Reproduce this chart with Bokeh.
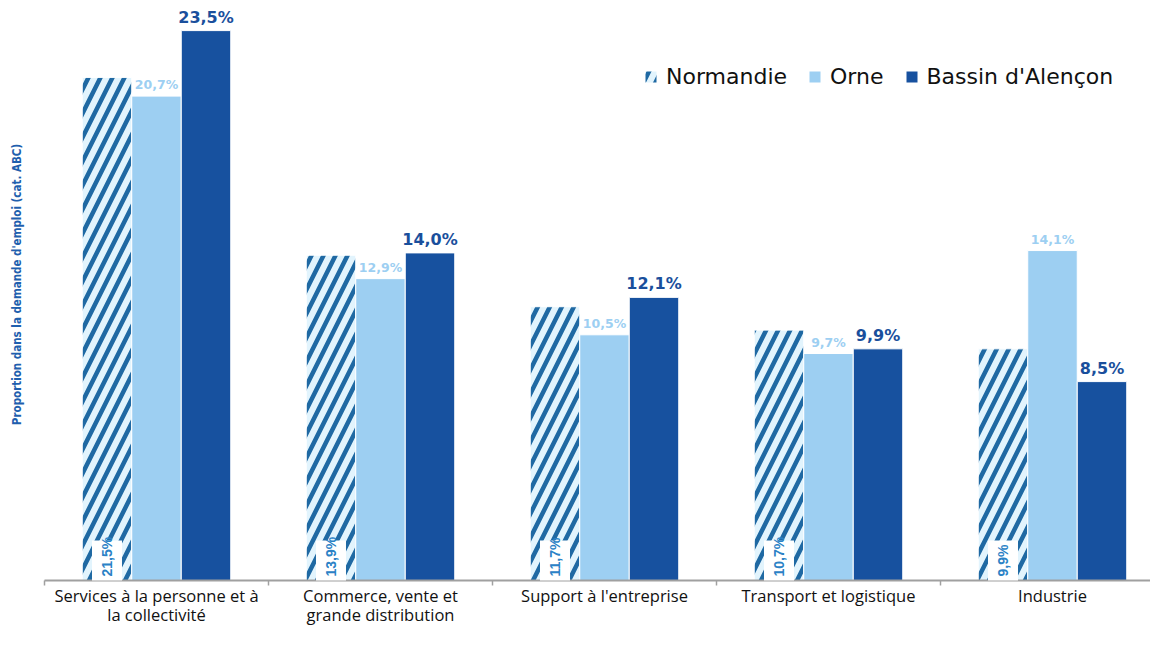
import math
from bokeh.plotting import figure
from bokeh.models import Range1d, ColumnDataSource, Legend, LegendItem
from bokeh.core.properties import value
from bokeh.embed import file_html
from bokeh.resources import INLINE

categories = ["Services à la personne et à\nla collectivité",
              "Commerce, vente et\ngrande distribution",
              "Support à l'entreprise",
              "Transport et logistique",
              "Industrie"]
normandie = [21.5, 13.9, 11.7, 10.7, 9.9]
orne = [20.7, 12.9, 10.5, 9.7, 14.1]
bassin = [23.5, 14.0, 12.1, 9.9, 8.5]
series_names = ["Normandie", "Orne", "Bassin d'Alençon"]
y_title = "Proportion dans la demande d'emploi (cat. ABC)"

def fmt(v):
    return ("%.1f" % v).replace(".", ",") + "%"

W, H = 1150, 630
CAT_PX = 224          # pixels per category
LEFT = 44             # pixels left of first category
BASE = 580            # baseline (from top)
SCALE = 23.4          # pixels per percent
BOX_W, BOX_H = 30, 40 # white label box (px)

centers = [i + 0.5 for i in range(len(categories))]
bw = 0.221
off = 0.221
xn = [c - off for c in centers]

src = ColumnDataSource(dict(
    xn=xn, xo=centers, xb=[c + off for c in centers],
    n=normandie, o=orne, b=bassin,
    ln=[fmt(v) for v in normandie], lo=[fmt(v) for v in orne], lb=[fmt(v) for v in bassin],
    zero=[0] * len(categories), cat=categories,
    bl=[x - BOX_W / 2 / CAT_PX for x in xn], br=[x + BOX_W / 2 / CAT_PX for x in xn],
    bt=[BOX_H / SCALE] * len(categories),
))

x_end = (W - LEFT) / CAT_PX
p = figure(width=W, height=H, output_backend="svg", toolbar_location=None,
           x_range=Range1d(-LEFT / CAT_PX, x_end),
           y_range=Range1d(-(H - BASE) / SCALE, BASE / SCALE),
           min_border_left=0, min_border_right=0, min_border_top=0, min_border_bottom=0)
p.outline_line_color = None
p.xaxis.visible = False
p.yaxis.visible = False
p.xgrid.visible = False
p.ygrid.visible = False
p.background_fill_color = "white"

rn = p.vbar(x="xn", top="n", width=bw, source=src, fill_color="#e2f4fd",
            line_color="white", line_width=1,
            hatch_pattern="/", hatch_color="#1f69a3", hatch_scale=24, hatch_weight=4.5)
ro = p.vbar(x="xo", top="o", width=bw, source=src, fill_color="#9dcff2",
            line_color="white", line_width=1)
rb = p.vbar(x="xb", top="b", width=bw, source=src, fill_color="#17519f",
            line_color="white", line_width=1)

# category axis: baseline and boundary ticks
bounds = list(range(len(categories)))
p.segment(x0=[0], y0=[0], x1=[x_end], y1=[0], line_color="#a0a0a0", line_width=2)
p.segment(x0=bounds, y0=[0] * len(bounds), x1=bounds, y1=[-5 / SCALE] * len(bounds),
          line_color="#a0a0a0", line_width=1.5)
p.text(x="xo", y="zero", text="cat", source=src, text_align="center", text_baseline="top",
       y_offset=3, text_font=value("Open Sans"), text_font_size="16.5px",
       text_color="#111111", text_line_height=0.85)

# value labels
p.quad(left="bl", right="br", bottom="zero", top="bt", source=src,
       fill_color="white", line_color=None)
p.text(x="xn", y="zero", text="ln", source=src, angle=math.pi / 2,
       text_align="left", text_baseline="middle", y_offset=-4,
       text_font=value("Liberation Sans"), text_font_style="bold",
       text_font_size="14px", text_color="#2b82c6")
p.text(x="xo", y="o", text="lo", source=src, text_align="center", text_baseline="bottom",
       y_offset=-4, text_font=value("DejaVu Sans"), text_font_style="bold",
       text_font_size="12.5px", text_color="#9dcff2")
p.text(x="xb", y="b", text="lb", source=src, text_align="center", text_baseline="bottom",
       y_offset=-4, text_font=value("DejaVu Sans"), text_font_style="bold",
       text_font_size="16px", text_color="#1a4f9c")

# y title
p.text(x=[-28 / CAT_PX], y=[(BASE - 284) / SCALE], text=[y_title], angle=math.pi / 2,
       text_align="center", text_baseline="middle",
       text_font=value("DejaVu Sans Condensed"), text_font_style="bold",
       text_font_size="11.5px", text_color="#1f5fae")

legend = Legend(items=[LegendItem(label=series_names[0], renderers=[rn]),
                       LegendItem(label=series_names[1], renderers=[ro]),
                       LegendItem(label=series_names[2], renderers=[rb])],
                orientation="horizontal", location=(643, 541),
                glyph_width=15, glyph_height=15, label_standoff=8, spacing=20,
                padding=0, margin=0, border_line_color=None, background_fill_alpha=0,
                label_text_font="DejaVu Sans", label_text_font_size="22px",
                label_text_color="#111111")
p.add_layout(legend, "center")

open("out.html", "w").write(file_html(p, INLINE))
